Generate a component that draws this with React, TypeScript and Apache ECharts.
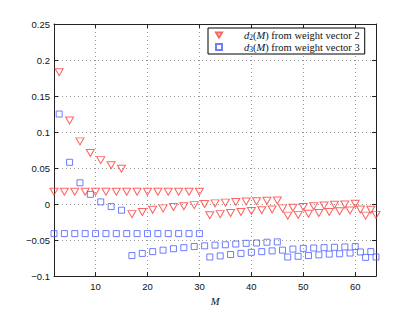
import React, { useEffect, useRef } from "react";
import * as echarts from "echarts";

// M runs from 2 to 64
const M_VALUES: number[] = Array.from({ length: 63 }, (_, i) => i + 2);

// d2(M) from weight vector 2, for M = 2..64
const D2: number[] = [
  0.017, 0.183, 0.017, 0.116, 0.017, 0.087, 0.017, 0.071, 0.017, 0.061,
  0.017, 0.054, 0.017, 0.049, 0.017, -0.014, 0.017, -0.011, 0.017, -0.008,
  0.017, -0.006, 0.017, -0.004, 0.017, -0.003, 0.017, -0.0015, 0.017, 0.0,
  -0.0155, 0.001, -0.014, 0.002, -0.0125, 0.003, -0.011, 0.0035, -0.0095, 0.004,
  -0.0085, 0.0045, -0.0075, 0.005, -0.006, -0.016, -0.005, -0.015, -0.004, -0.0135,
  -0.003, -0.0125, -0.002, -0.011, -0.001, -0.01, -0.0005, -0.009, 0.0005, -0.0075,
  -0.016, -0.008, -0.015,
];

// d3(M) from weight vector 3, for M = 2..64
const D3: number[] = [
  -0.041, 0.125, -0.041, 0.058, -0.041, 0.0295, -0.041, 0.0135, -0.041, 0.003,
  -0.041, -0.0035, -0.041, -0.0085, -0.041, -0.0715, -0.041, -0.0685, -0.041, -0.066,
  -0.041, -0.064, -0.041, -0.062, -0.041, -0.0605, -0.041, -0.059, -0.041, -0.058,
  -0.0735, -0.057, -0.072, -0.0565, -0.07, -0.0555, -0.0685, -0.0545, -0.067, -0.054,
  -0.066, -0.053, -0.065, -0.0525, -0.064, -0.0735, -0.0625, -0.0725, -0.0615, -0.0715,
  -0.061, -0.0705, -0.0605, -0.0695, -0.06, -0.069, -0.0595, -0.068, -0.059, -0.0665,
  -0.074, -0.066, -0.0735,
];

const SERIES_NAMES = ["d2(M) from weight vector 2", "d3(M) from weight vector 3"];
const LEGEND_RICH_TEXT: Record<string, string> = {
  [SERIES_NAMES[0]]: "{g|}{i|d}{s|2}({i|M}) from weight vector 2",
  [SERIES_NAMES[1]]: "{g|}{i|d}{s|3}({i|M}) from weight vector 3",
};

const X_MIN = 2;
const X_MAX = 64;
const Y_MIN = -0.1;
const Y_MAX = 0.25;
const Y_STEP = 0.05;

const fmtY = (v: number) => {
  const s = String(parseFloat(v.toFixed(2)));
  return s.replace("-", "\u2212");
};

export default function App() {
  const ref = useRef<HTMLDivElement>(null);

  useEffect(() => {
    if (!ref.current) return;
    const chart = echarts.init(ref.current, undefined, { renderer: "svg" });
    const serif = "Liberation Serif";
    const sans = "Liberation Sans";
    const axisColor = "#222";
    const gridLine = { show: true, lineStyle: { color: "#9a9a9a", type: [1, 3] as any, width: 1 } };

    const option: any = {
      animation: false,
      backgroundColor: "#fff",
      grid: { left: 54, right: 39, top: 24, bottom: 35, containLabel: false },
      legend: {
        left: 208,
        top: 28,
        orient: "vertical",
        padding: [1, 5, 1, 7],
        itemGap: 0,
        itemWidth: 6,
        itemHeight: 6,
        borderColor: "#000",
        borderWidth: 1,
        backgroundColor: "#fff",
        data: [
          { name: SERIES_NAMES[0], icon: "path://M0,0L10,0L5,8.66Z" },
          { name: SERIES_NAMES[1], icon: "rect" },
        ],
        formatter: (name: string) => LEGEND_RICH_TEXT[name] || name,
        textStyle: {
          fontFamily: serif,
          fontSize: 10.5,
          color: "#111",
          lineHeight: 12,
          rich: {
            g: { width: 17 },
            i: { fontFamily: serif, fontStyle: "italic", fontSize: 10.5, color: "#111" },
            s: { fontFamily: serif, fontSize: 7.5, color: "#111", padding: [4, 0, 0, 0] },
          },
        },
      },
      xAxis: [
        {
          type: "value",
          min: X_MIN,
          max: X_MAX,
          position: "bottom",
          name: "M",
          nameLocation: "middle",
          nameGap: 13,
          nameTextStyle: { fontFamily: serif, fontStyle: "italic", fontSize: 10.5, color: "#111" },
          axisLine: { show: true, onZero: false, lineStyle: { color: axisColor, width: 1 } },
          axisTick: { show: true, inside: true, length: 4, lineStyle: { color: axisColor } },
          axisLabel: {
            show: true,
            showMinLabel: false,
            showMaxLabel: false,
            margin: 5,
            fontFamily: sans,
            fontSize: 9.5,
            color: "#111",
          },
          splitLine: gridLine,
        },
        {
          type: "value",
          min: X_MIN,
          max: X_MAX,
          position: "top",
          axisLine: { show: true, onZero: false, lineStyle: { color: axisColor, width: 1 } },
          axisTick: { show: true, inside: true, length: 4, lineStyle: { color: axisColor } },
          axisLabel: { show: false },
          splitLine: { show: false },
        },
      ],
      yAxis: [
        {
          type: "value",
          min: Y_MIN,
          max: Y_MAX,
          interval: Y_STEP,
          position: "left",
          axisLine: { show: true, onZero: false, lineStyle: { color: axisColor, width: 1 } },
          axisTick: { show: true, inside: true, length: 4, lineStyle: { color: axisColor } },
          axisLabel: {
            margin: 4,
            fontFamily: sans,
            fontSize: 9.5,
            color: "#111",
            formatter: (v: number) => fmtY(v),
          },
          splitLine: gridLine,
        },
        {
          type: "value",
          min: Y_MIN,
          max: Y_MAX,
          interval: Y_STEP,
          position: "right",
          axisLine: { show: true, onZero: false, lineStyle: { color: axisColor, width: 1 } },
          axisTick: { show: true, inside: true, length: 4, lineStyle: { color: axisColor } },
          axisLabel: { show: false },
          splitLine: { show: false },
        },
      ],
      series: [
        {
          name: SERIES_NAMES[0],
          type: "scatter",
          xAxisIndex: 0,
          yAxisIndex: 0,
          symbol: "triangle",
          symbolRotate: 180,
          symbolSize: [8, 7],
          clip: false,
          itemStyle: { color: "rgba(0,0,0,0)", borderColor: "#ff3b3b", borderWidth: 1 },
          data: M_VALUES.map((m, i) => [m, D2[i]]),
        },
        {
          name: SERIES_NAMES[1],
          type: "scatter",
          xAxisIndex: 0,
          yAxisIndex: 0,
          symbol: "rect",
          symbolSize: 6,
          clip: false,
          itemStyle: { color: "rgba(0,0,0,0)", borderColor: "#4a5cff", borderWidth: 1 },
          data: M_VALUES.map((m, i) => [m, D3[i]]),
        },
      ],
    };
    chart.setOption(option);
    return () => chart.dispose();
  }, []);

  return (
    <div
      ref={ref}
      style={{ position: "fixed", left: 0, top: 0, width: 415, height: 312, background: "#fff" }}
    />
  );
}
